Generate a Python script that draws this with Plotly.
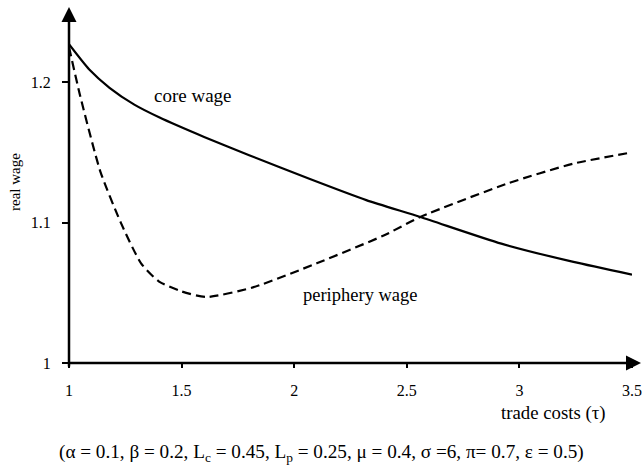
import plotly.graph_objects as go

# Data
core_x = [1.0, 1.09, 1.18, 1.29, 1.4, 1.6, 1.8, 2.07, 2.32, 2.56, 2.92, 3.24, 3.5]
core_y = [1.227, 1.209, 1.196, 1.184, 1.175, 1.161, 1.148, 1.131, 1.116, 1.104, 1.085, 1.072, 1.063]

peri_x = [1.0, 1.05, 1.14, 1.23, 1.32, 1.4, 1.5, 1.61, 1.82, 2.1, 2.4, 2.56, 2.95, 3.24, 3.5]
peri_y = [1.225, 1.19, 1.136, 1.1, 1.071, 1.058, 1.051, 1.047, 1.054, 1.071, 1.091, 1.104, 1.128, 1.142, 1.150]

x_ticks = [1, 1.5, 2, 2.5, 3, 3.5]
x_tick_labels = ["1", "1.5", "2", "2.5", "3", "3.5"]
y_ticks = [1, 1.1, 1.2]
y_tick_labels = ["1", "1.1", "1.2"]

FONT = "Liberation Serif"

fig = go.Figure()
fig.add_trace(go.Scatter(x=core_x, y=core_y, mode="lines",
                         line=dict(color="black", width=2.2, shape="spline", smoothing=0.6),
                         showlegend=False, hoverinfo="skip", cliponaxis=False))
fig.add_trace(go.Scatter(x=peri_x, y=peri_y, mode="lines",
                         line=dict(color="black", width=2.2, dash="9px,5px", shape="spline", smoothing=0.6),
                         showlegend=False, hoverinfo="skip", cliponaxis=False))

annotations = [
    # x axis with arrow
    dict(x=1.016, y=0, xref="paper", yref="paper", ax=-574, ay=0,
         showarrow=True, arrowhead=2, arrowsize=1.2, arrowwidth=2.5, arrowcolor="black",
         text="", standoff=0, startstandoff=0),
    # y axis with arrow
    dict(x=0, y=1.014, xref="paper", yref="paper", ax=0, ay=361,
         showarrow=True, arrowhead=2, arrowsize=1.2, arrowwidth=2.5, arrowcolor="black",
         text="", standoff=0, startstandoff=0),
    dict(x=1.551, y=1.1907, xref="x", yref="y", text="core wage", showarrow=False,
         xanchor="center", yanchor="middle",
         font=dict(family=FONT, size=19, color="black")),
    dict(x=2.293, y=1.0484, xref="x", yref="y", text="periphery wage", showarrow=False,
         xanchor="center", yanchor="middle",
         font=dict(family=FONT, size=18.5, color="black")),
    dict(x=0.860, y=-0.1425, xref="paper", yref="paper", text="trade costs (τ)", showarrow=False,
         xanchor="center", yanchor="middle",
         font=dict(family=FONT, size=18.8, color="black")),
    dict(x=-0.0959, y=0.5157, xref="paper", yref="paper", text="real wage", showarrow=False,
         xanchor="center", yanchor="middle",
         textangle=-90, font=dict(family=FONT, size=15, color="black")),
    dict(x=0.4485, y=-0.2564, xref="paper", yref="paper",
         text="(α = 0.1, β = 0.2, L<sub>c</sub> = 0.45, L<sub>p</sub> = 0.25, μ = 0.4, σ =6, π= 0.7, ε = 0.5)",
         xanchor="center", yanchor="middle",
         showarrow=False, font=dict(family=FONT, size=19.2, color="black")),
]

fig.update_layout(
    width=642, height=468,
    margin=dict(l=69, r=10, t=12, b=105),
    paper_bgcolor="white", plot_bgcolor="white",
    annotations=annotations,
    xaxis=dict(range=[1, 3.5], tickvals=x_ticks, ticktext=x_tick_labels,
               showgrid=False, zeroline=False, showline=False, automargin=False,
               ticks="outside", ticklen=4, tickwidth=1.5, tickcolor="black",
               ticklabelstandoff=9,
               tickfont=dict(family=FONT, size=16, color="black")),
    yaxis=dict(range=[1, 1.25], tickvals=y_ticks, ticktext=y_tick_labels,
               showgrid=False, zeroline=False, showline=False, automargin=False,
               ticks="outside", ticklen=6, tickwidth=1.5, tickcolor="black",
               ticklabelstandoff=8,
               tickfont=dict(family=FONT, size=16, color="black")),
)

# remove the page's default 8px body margin so the figure sits at the corner
fig.write_html("out.html", config={"displayModeBar": False},
               post_script="document.body.style.margin='0px';document.body.style.overflow='hidden';")
